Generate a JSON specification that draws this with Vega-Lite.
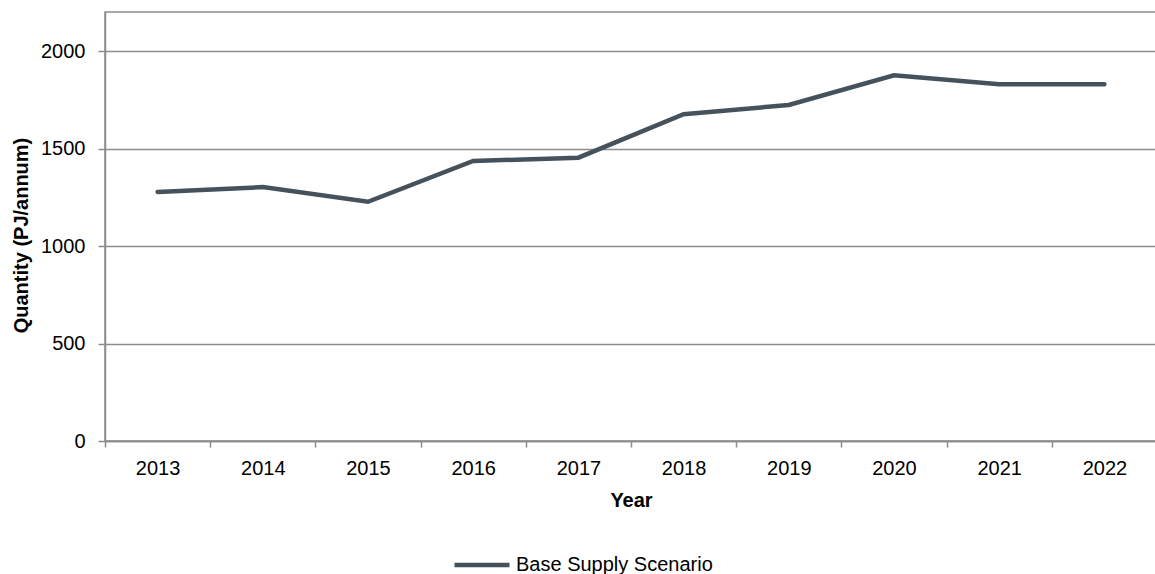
{
  "$schema": "https://vega.github.io/schema/vega-lite/v6.json",
  "autosize": {"type": "none"},
  "width": 1052,
  "height": 429,
  "padding": {"left": 105, "top": 12, "right": 0, "bottom": 133},
  "background": "white",
  "config": {
    "font": "Liberation Sans",
    "view": {"stroke": "#8c8c8c", "strokeWidth": 1.5}
  },
  "data": {
    "values": [
      {"Year": "2013", "Quantity": 1277, "Series": "Base Supply Scenario"},
      {"Year": "2014", "Quantity": 1302, "Series": "Base Supply Scenario"},
      {"Year": "2015", "Quantity": 1227, "Series": "Base Supply Scenario"},
      {"Year": "2016", "Quantity": 1436, "Series": "Base Supply Scenario"},
      {"Year": "2017", "Quantity": 1453, "Series": "Base Supply Scenario"},
      {"Year": "2018", "Quantity": 1676, "Series": "Base Supply Scenario"},
      {"Year": "2019", "Quantity": 1723, "Series": "Base Supply Scenario"},
      {"Year": "2020", "Quantity": 1875, "Series": "Base Supply Scenario"},
      {"Year": "2021", "Quantity": 1829, "Series": "Base Supply Scenario"},
      {"Year": "2022", "Quantity": 1829, "Series": "Base Supply Scenario"}
    ]
  },
  "mark": {"type": "line", "strokeWidth": 4.5, "strokeCap": "round", "strokeJoin": "miter"},
  "encoding": {
    "x": {
      "field": "Year",
      "type": "ordinal",
      "bandPosition": 0.5,
      "scale": {"type": "band", "paddingInner": 0, "paddingOuter": 0},
      "axis": {
        "title": "Year",
        "titleFont": "Liberation Sans",
        "titleFontSize": 20,
        "titleFontWeight": "bold",
        "titleColor": "#000000",
        "titlePadding": 12,
        "labelAngle": 0,
        "labelFont": "Liberation Sans",
        "labelFontSize": 20,
        "labelColor": "#000000",
        "labelPadding": 11,
        "tickBand": "extent",
        "tickSize": 6,
        "tickColor": "#8c8c8c",
        "tickWidth": 1.5,
        "domainColor": "#8c8c8c",
        "domainWidth": 1.5,
        "grid": false
      }
    },
    "y": {
      "field": "Quantity",
      "type": "quantitative",
      "scale": {"domain": [0, 2200], "nice": false, "zero": true},
      "axis": {
        "title": "Quantity (PJ/annum)",
        "titleFont": "Liberation Sans",
        "titleFontSize": 20,
        "titleFontWeight": "bold",
        "titleColor": "#000000",
        "titleAngle": -90,
        "titleBaseline": "middle",
        "titleAlign": "center",
        "titleX": -84,
        "titleY": 223,
        "values": [0, 500, 1000, 1500, 2000],
        "format": "d",
        "labelFont": "Liberation Sans",
        "labelFontSize": 20,
        "labelColor": "#000000",
        "labelPadding": 13,
        "tickSize": 7,
        "tickColor": "#8c8c8c",
        "tickWidth": 1.5,
        "domainColor": "#8c8c8c",
        "domainWidth": 1.5,
        "grid": true,
        "gridColor": "#8c8c8c",
        "gridWidth": 1.5
      }
    },
    "color": {
      "field": "Series",
      "type": "nominal",
      "scale": {"domain": ["Base Supply Scenario"], "range": ["#45525b"]},
      "legend": {
        "title": null,
        "orient": "none",
        "legendX": 347,
        "legendY": 523,
        "direction": "horizontal",
        "symbolType": "stroke",
        "symbolSize": 3025,
        "symbolStrokeWidth": 4.5,
        "labelFont": "Liberation Sans",
        "labelFontSize": 20,
        "labelColor": "#000000",
        "labelOffset": 4,
        "labelLimit": 500,
        "padding": 0
      }
    }
  }
}
